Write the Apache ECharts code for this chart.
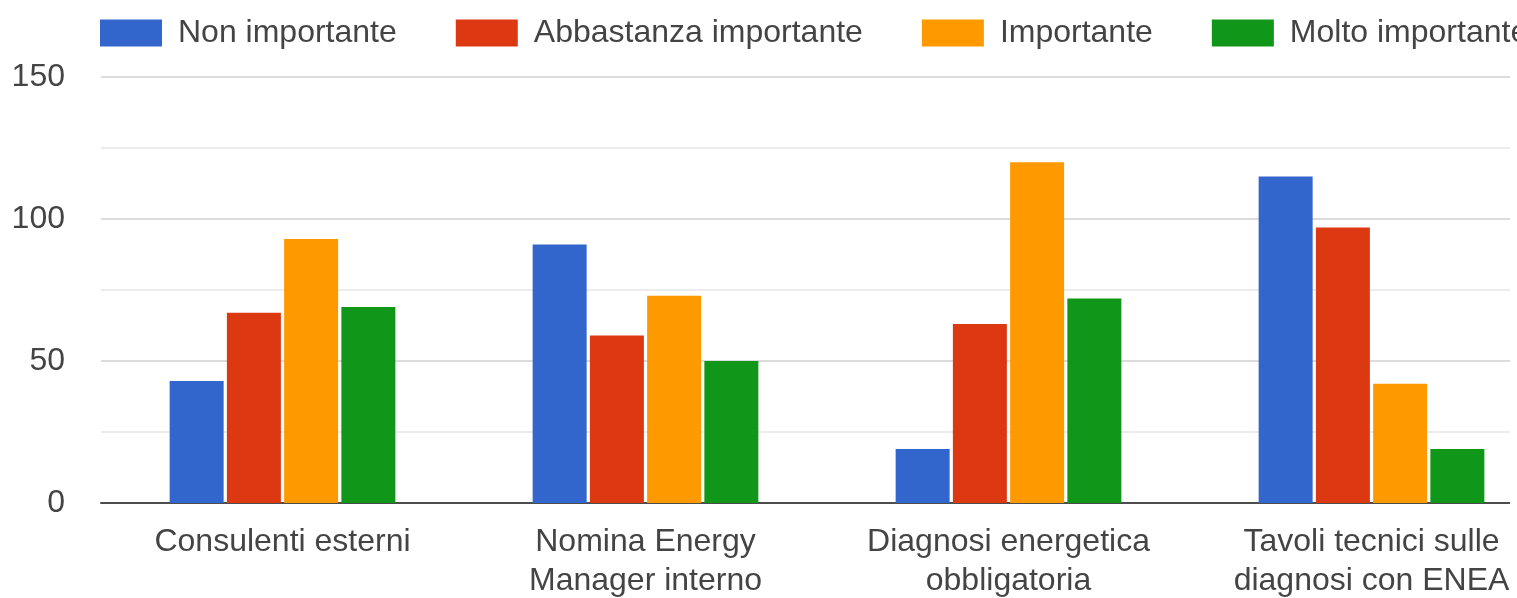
<!DOCTYPE html>
<html>
<head>
<meta charset="utf-8">
<style>
  html, body { margin: 0; padding: 0; background: #fff; }
  #chart { width: 1517px; height: 598px; }
</style>
<script src="https://cdn.jsdelivr.net/npm/echarts@6/dist/echarts.min.js"></script>
</head>
<body>
<div id="chart"></div>
<script>
// Categories (x axis) and the four rating levels
const categories = [
  'Consulenti esterni',
  'Nomina Energy\nManager interno',
  'Diagnosi energetica\nobbligatoria',
  'Tavoli tecnici sulle\ndiagnosi con ENEA'
];
const seriesNames = ['Non importante', 'Abbastanza importante', 'Importante', 'Molto importante'];

// Number of answers per category, one array per rating level
const nonImportante = [43, 91, 19, 115];
const abbastanzaImportante = [67, 59, 63, 97];
const importante = [93, 73, 120, 42];
const moltoImportante = [69, 50, 72, 19];

// Y axis range and tick step
const yMin = 0;
const yMax = 150;
const yStep = 25;

const colors = ['#3366cc', '#dc3912', '#ff9900', '#109618'];
const values = [nonImportante, abbastanzaImportante, importante, moltoImportante];
const font = "'Liberation Sans', Arial, sans-serif";
const textColor = '#444444';

const chart = echarts.init(document.getElementById('chart'), null, { renderer: 'canvas' });

chart.setOption({
  animation: false,
  backgroundColor: '#ffffff',
  textStyle: { fontFamily: font },
  color: colors,
  legend: {
    left: 100,
    top: 17,
    width: 2400,
    padding: 0,
    icon: 'rect',
    itemWidth: 62,
    itemHeight: 27,
    itemGap: 59,
    textStyle: {
      fontFamily: font,
      fontSize: 32,
      color: textColor,
      padding: [0, 0, 0, 11]
    },
    data: seriesNames
  },
  // the plot runs past the right edge of the canvas, so the last group sits near the border
  grid: {
    left: 101,
    width: 1452,
    top: 77,
    bottom: 95,
    containLabel: false,
    outerBoundsMode: 'none'
  },
  xAxis: {
    type: 'category',
    data: categories,
    axisTick: { show: false },
    axisLine: { lineStyle: { color: '#4d4d4d', width: 2 } },
    axisLabel: {
      interval: 0,
      margin: 20,
      fontFamily: font,
      fontSize: 32,
      lineHeight: 39,
      color: textColor,
      align: 'center'
    }
  },
  yAxis: {
    type: 'value',
    min: yMin,
    max: yMax,
    interval: yStep,
    axisLine: { show: false },
    axisTick: { show: false },
    axisLabel: {
      margin: 36,
      fontFamily: font,
      fontSize: 32,
      color: textColor,
      formatter: v => (v % 50 === 0 ? String(v) : '')
    },
    splitLine: {
      lineStyle: { color: ['#dcdcdc', '#ececec'], width: 2 }
    }
  },
  graphic: [{
    type: 'rect',
    z: 100,
    shape: { x: 1510, y: 60, width: 10, height: 452 },
    style: { fill: '#ffffff' }
  }],
  series: seriesNames.map((name, i) => ({
    name,
    type: 'bar',
    data: values[i],
    barWidth: 54,
    barGap: '6%',
    itemStyle: { color: colors[i] }
  }))
});
</script>
</body>
</html>
